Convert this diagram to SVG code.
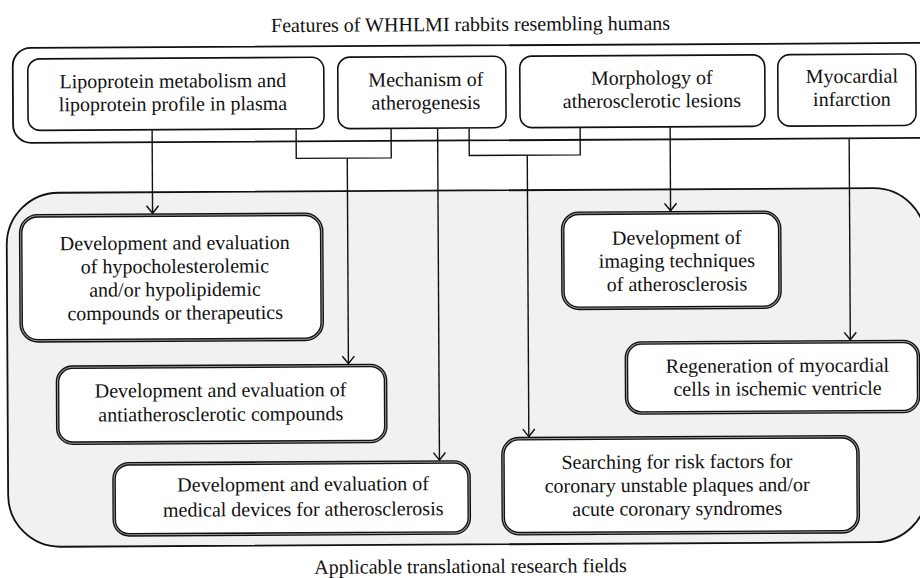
<svg xmlns="http://www.w3.org/2000/svg" width="920" height="578" viewBox="0 0 920 578">
<style>
  text { font-family: "Liberation Serif", "Times New Roman", serif; font-size: 20px; fill: #111; text-anchor: middle; }
  .container { fill: #ffffff; stroke: #111; stroke-width: 1.8; }
  .field { fill: #f1f1f1; stroke: #111; stroke-width: 1.8; }
  .feature { fill: #ffffff; stroke: #111; stroke-width: 1.6; }
  .app { fill: #ffffff; stroke: #111; stroke-width: 3.6; }
  .app-in { fill: none; stroke: #9a9a9a; stroke-width: 1; }
  .conn { fill: none; stroke: #111; stroke-width: 1.4; }
</style>
<defs>
  <marker id="arrow" markerUnits="userSpaceOnUse" markerWidth="12" markerHeight="16" viewBox="-9 -8 11 16" refX="0" refY="0" orient="auto" overflow="visible">
    <path d="M-7.5,-6 L0,0 L-7.5,6" fill="none" stroke="#111" stroke-width="1.5"/>
  </marker>
</defs>
<rect width="920" height="578" fill="#ffffff"/>
<g transform="rotate(-0.32 460 289)">
  <g id="title-top"><text x="472" y="31">Features of WHHLMI rabbits resembling humans</text></g>
  <g id="features-container"><rect class="container" x="14" y="45.5" width="930" height="95" rx="18"/></g>
  <g id="fields-container"><rect class="field" x="7" y="190.5" width="919" height="354" rx="52"/></g>

  <g id="n-lipo">
    <rect class="feature" x="29" y="56.5" width="296" height="71.5" rx="12"/>
    <text x="174" y="86">Lipoprotein metabolism and</text>
    <text x="174" y="109">lipoprotein profile in plasma</text>
  </g>
  <g id="n-mech">
    <rect class="feature" x="339" y="56.5" width="168" height="71.5" rx="12"/>
    <text x="427" y="86">Mechanism of</text>
    <text x="427" y="109">atherogenesis</text>
  </g>
  <g id="n-morph">
    <rect class="feature" x="521" y="56.5" width="245" height="71.5" rx="12"/>
    <text x="653" y="85.5">Morphology of</text>
    <text x="653" y="108.5">atherosclerotic lesions</text>
  </g>
  <g id="n-myo">
    <rect class="feature" x="779" y="56.5" width="138" height="71.5" rx="12"/>
    <text x="853" y="85">Myocardial</text>
    <text x="853" y="108">infarction</text>
  </g>

  <g id="n-hypo">
    <rect class="app" x="21" y="213.5" width="301" height="125" rx="17"/>
    <rect class="app-in" x="21" y="213.5" width="301" height="125" rx="17"/>
    <text x="175" y="248">Development and evaluation</text>
    <text x="175" y="271.3">of hypocholesterolemic</text>
    <text x="175" y="294.6">and/or hypolipidemic</text>
    <text x="175" y="318">compounds or therapeutics</text>
  </g>
  <g id="n-anti">
    <rect class="app" x="57" y="365" width="328" height="76" rx="15"/>
    <rect class="app-in" x="57" y="365" width="328" height="76" rx="15"/>
    <text x="220" y="395.5">Development and evaluation of</text>
    <text x="220" y="419.5">antiatherosclerotic compounds</text>
  </g>
  <g id="n-devices">
    <rect class="app" x="113" y="462" width="355" height="71" rx="15"/>
    <rect class="app-in" x="113" y="462" width="355" height="71" rx="15"/>
    <text x="302" y="490">Development and evaluation of</text>
    <text x="302" y="515">medical devices for atherosclerosis</text>
  </g>
  <g id="n-imaging">
    <rect class="app" x="563" y="214" width="217" height="95" rx="16"/>
    <rect class="app-in" x="563" y="214" width="217" height="95" rx="16"/>
    <text x="677" y="245.5">Development of</text>
    <text x="677" y="268.5">imaging techniques</text>
    <text x="677" y="292">of atherosclerosis</text>
  </g>
  <g id="n-regen">
    <rect class="app" x="626" y="344" width="292" height="70" rx="15"/>
    <rect class="app-in" x="626" y="344" width="292" height="70" rx="15"/>
    <text x="777" y="374">Regeneration of myocardial</text>
    <text x="777" y="397">cells in ischemic ventricle</text>
  </g>
  <g id="n-risk">
    <rect class="app" x="502" y="439" width="355" height="95" rx="16"/>
    <rect class="app-in" x="502" y="439" width="355" height="95" rx="16"/>
    <text x="676" y="469.5">Searching for risk factors for</text>
    <text x="676" y="493">coronary unstable plaques and/or</text>
    <text x="676" y="516.5">acute coronary syndromes</text>
  </g>

  <g id="connectors">
    <path class="conn" d="M153,128.5 V211.5" marker-end="url(#arrow)"/>
    <path class="conn" d="M297,128.5 V157.5 H392 V128.5"/>
    <path class="conn" d="M348,157.5 V363" marker-end="url(#arrow)"/>
    <path class="conn" d="M438.5,128.5 V460" marker-end="url(#arrow)"/>
    <path class="conn" d="M470,128.5 V155.5 H581 V128.5"/>
    <path class="conn" d="M528,155.5 V437" marker-end="url(#arrow)"/>
    <path class="conn" d="M671,128.5 V212" marker-end="url(#arrow)"/>
    <path class="conn" d="M850,140.5 V342" marker-end="url(#arrow)"/>
  </g>

  <g id="title-bottom"><text x="469" y="573">Applicable translational research fields</text></g>
</g>
</svg>
